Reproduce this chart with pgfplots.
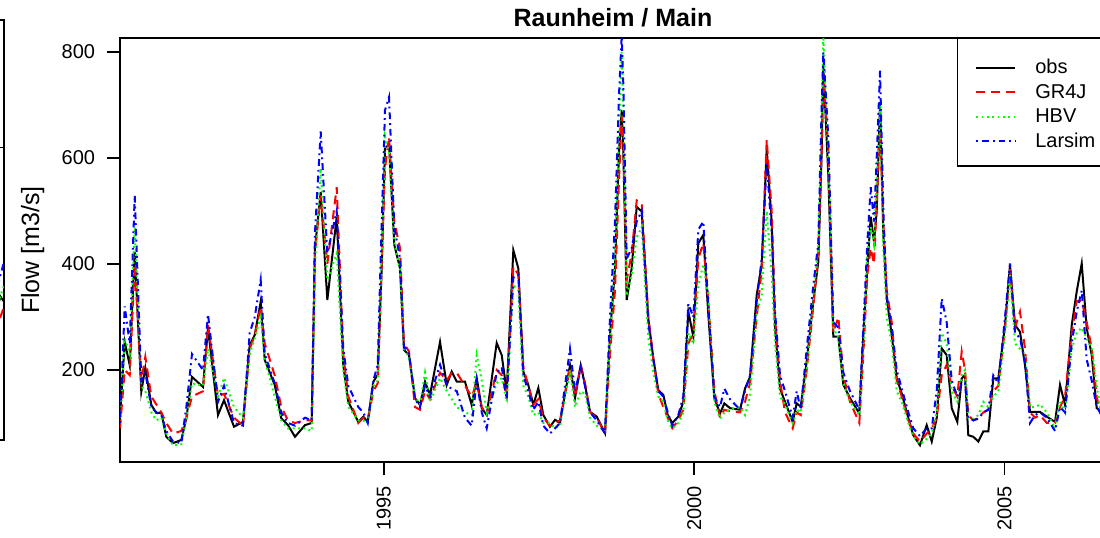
\documentclass[border=0pt]{standalone}
\usepackage{fontspec}
\setmainfont{Liberation Sans}
\usepackage{pgfplots}
\usepackage{pgfplotstable}
\pgfplotsset{compat=1.18}

\definecolor{rred}{RGB}{255,0,0}
\definecolor{rgreen}{RGB}{0,255,0}
\definecolor{rblue}{RGB}{0,0,255}

\pgfplotstableread{
t obs gr hbv lar
1990.749 110 90 100 100
1990.825 253 200 260 320
1990.906 209 190 230 250
1990.986 423 400 470 530
1991.092 159 180 170 180
1991.157 204 225 160 195
1991.254 134 150 120 130
1991.334 119 135 105 120
1991.415 119 120 110 115
1991.495 74 100 80 85
1991.603 62 80 58 65
1991.737 68 85 60 62
1991.818 109 110 110 130
1991.909 187 150 175 230
1992.086 168 160 170 200
1992.167 279 285 240 305
1992.328 115 150 150 140
1992.425 143 155 185 170
1992.586 93 110 130 100
1992.731 102 95 110 95
1992.839 247 240 230 270
1992.920 266 265 260 300
1993.016 329 320 300 370
1993.081 219 250 220 230
1993.242 172 190 150 175
1993.348 109 130 105 120
1993.456 96 105 90 100
1993.569 74 100 90 95
1993.730 96 105 90 110
1993.838 100 105 85 105
1993.891 430 420 400 460
1993.983 536 530 580 650
1994.090 332 400 370 420
1994.241 489 545 420 500
1994.347 209 230 200 240
1994.428 140 150 130 170
1994.589 102 100 105 130
1994.670 112 110 105 120
1994.741 102 105 100 100
1994.831 178 160 170 180
1994.902 191 175 180 210
1994.966 392 400 420 480
1995.019 619 580 640 690
1995.084 625 640 610 715
1995.169 436 480 440 470
1995.261 392 430 390 410
1995.325 238 250 240 245
1995.406 228 235 225 230
1995.503 147 130 150 145
1995.583 134 125 135 130
1995.664 178 160 195 170
1995.744 153 145 140 150
1995.906 253 195 185 210
1996.014 172 180 160 170
1996.094 197 195 145 165
1996.175 178 195 130 160
1996.308 178 170 120 110
1996.416 134 150 115 95
1996.497 185 175 228 180
1996.578 128 130 180 120
1996.658 115 115 120 90
1996.819 251 200 175 195
1996.900 228 190 185 205
1996.980 159 150 140 145
1997.087 426 395 360 375
1997.167 392 380 350 380
1997.248 197 205 170 190
1997.328 172 170 150 160
1997.409 134 135 115 125
1997.490 166 145 120 140
1997.570 115 110 100 95
1997.678 93 95 100 80
1997.759 106 100 90 90
1997.839 100 105 95 100
1998.000 209 205 200 240
1998.081 147 150 130 160
1998.173 209 210 160 205
1998.242 172 175 155 170
1998.323 121 120 110 120
1998.431 112 110 95 105
1998.564 81 80 85 80
1998.645 266 230 260 300
1998.725 392 350 420 480
1998.790 612 560 650 720
1998.833 690 680 800 830
1998.859 612 640 700 740
1998.914 332 370 340 410
1998.994 392 420 380 430
1999.075 508 520 450 480
1999.156 499 515 470 500
1999.262 297 300 260 290
1999.343 222 220 195 220
1999.423 162 155 150 160
1999.504 153 130 140 150
1999.575 115 110 105 120
1999.649 100 90 90 95
1999.745 112 105 100 115
1999.826 140 125 120 150
1999.907 310 250 270 325
1999.987 263 270 250 300
2000.068 439 410 360 465
2000.148 455 440 400 480
2000.229 304 330 340 320
2000.326 147 160 140 150
2000.417 118 110 108 130
2000.487 137 125 120 165
2000.578 128 122 125 145
2000.740 125 120 130 125
2000.820 165 140 115 160
2000.901 187 175 150 190
2001.009 342 300 310 330
2001.089 398 390 340 410
2001.170 618 635 500 590
2001.250 480 500 380 460
2001.304 279 300 250 310
2001.384 165 180 150 190
2001.465 140 120 135 160
2001.589 102 90 100 110
2001.653 137 120 125 160
2001.718 131 115 120 125
2001.814 216 200 200 240
2001.921 329 320 340 360
2002.001 404 420 430 440
2002.056 612 620 680 700
2002.082 775 760 830 800
2002.162 568 620 600 640
2002.243 263 270 280 290
2002.324 263 300 260 280
2002.404 172 190 175 195
2002.512 147 140 140 160
2002.662 118 100 115 125
2002.727 266 230 240 280
2002.791 392 380 420 440
2002.846 489 430 470 545
2002.899 442 400 440 480
2002.942 499 520 560 600
2002.996 706 650 700 765
2003.049 455 480 430 500
2003.104 335 350 300 340
2003.184 266 290 250 280
2003.265 184 180 160 200
2003.345 156 150 140 165
2003.452 109 105 100 120
2003.532 77 80 75 90
2003.640 58 65 60 75
2003.748 96 80 70 90
2003.829 65 90 80 90
2003.909 109 110 120 160
2003.990 241 190 270 335
2004.070 228 210 250 290
2004.151 128 170 160 180
2004.241 102 150 140 150
2004.312 184 235 190 175
2004.365 191 200 200 175
2004.418 77 115 110 110
2004.499 74 105 108 105
2004.580 65 110 115 108
2004.660 84 120 140 120
2004.741 84 125 130 125
2004.821 184 160 150 190
2004.902 184 170 160 175
2005.010 285 280 270 300
2005.090 398 390 380 401
2005.171 285 280 250 270
2005.251 272 310 240 260
2005.332 209 240 230 215
2005.413 121 120 130 100
2005.493 121 110 130 115
2005.574 121 115 135 120
2005.682 112 100 120 110
2005.816 102 100 90 85
2005.896 172 130 140 130
2005.977 134 150 120 120
2006.085 285 270 240 250
2006.165 348 330 270 310
2006.246 401 330 280 350
2006.326 279 290 260 220
2006.407 228 240 240 180
2006.487 128 150 170 130
2006.541 125 120 130 120
2006.620 140 130 150 135
}\flowdata

\pgfplotstableread{
t obs gr hbv lar
1990.40 230 240 250 280
1990.50 260 250 270 300
1990.58 300 260 300 340
1990.64 290 280 320 365
}\prevdata

\pgfplotsset{
  flowaxis/.style={
    scale only axis, width=739.5pt, height=318pt,
    ymin=26.4, ymax=826.4,
    axis line style={line width=1.1pt},
    tick style={black, line width=1.1pt},
    tick align=outside, major tick length=9.75pt,
    xtick pos=bottom, ytick pos=left,
    /pgf/number format/assume math mode=true,
    tick label style={font=\fontsize{15}{18}\selectfont},
    legend cell align=left,
    legend style={at={(1,1)}, anchor=north east, draw=black, line width=1.1pt, fill=white,
      font=\fontsize{15}{18}\selectfont, inner xsep=7.5pt, inner ysep=11pt,
      row sep=0pt, column sep=14.25pt,
      nodes={inner xsep=0pt, inner ysep=2pt, text height=13.25pt, text depth=1.15pt}},
    legend image code/.code={\path[draw=none, fill=none] (0pt,0pt) -- (36pt,0pt);
      \draw[##1, fill=none] (6.75pt,-1.5pt) -- (36pt,-1.5pt);},
  },
  obsl/.style={black, solid, line width=1.5pt},
  grl/.style={rred, line width=1.5pt, dash pattern=on 6.75pt off 4.5pt},
  hbvl/.style={rgreen, line width=1.5pt, dash pattern=on 1.4pt off 2.6pt},
  larl/.style={rblue, line width=1.5pt, dash pattern=on 1.4pt off 3pt on 5pt off 3pt},
}

\begin{document}
\begin{tikzpicture}
\begin{axis}[flowaxis, at={(3pt,72.75pt)}, anchor=south east, height=315pt,
  xmin=1974.75, xmax=1990.64, xtick=\empty, ytick=\empty]
\addplot[obsl] table[x=t, y=obs] {\prevdata};
\addplot[grl] table[x=t, y=gr] {\prevdata};
\addplot[hbvl] table[x=t, y=hbv] {\prevdata};
\addplot[larl] table[x=t, y=lar] {\prevdata};
\draw[line width=1.1pt] (rel axis cs:0.8,0.6965) -- (rel axis cs:1,0.6965);
\end{axis}

\begin{axis}[flowaxis, at={(90pt,56.25pt)}, anchor=south west,
  xmin=1990.749, xmax=2006.637,
  xtick={1995,2000,2005}, xticklabels={1995,2000,2005},
  ytick={200,400,600,800}, yticklabels={200,400,600,800},
  xticklabel style={rotate=90, anchor=east},
  xticklabel shift=4.75pt, yticklabel shift=5.5pt,
  title={Raunheim / Main},
  title style={at={(0.5,1)}, anchor=base, yshift=3pt, font=\fontsize{18.75}{22}\selectfont\bfseries},
  ylabel={Flow [m3/s]},
  ylabel style={at={([xshift=-60.75pt]axis description cs:0,0.5)}, anchor=base, rotate=0,
    font=\fontsize{18.75}{22}\selectfont},
]
\addplot[obsl] table[x=t, y=obs] {\flowdata};
\addplot[grl] table[x=t, y=gr] {\flowdata};
\addplot[hbvl] table[x=t, y=hbv] {\flowdata};
\addplot[larl] table[x=t, y=lar] {\flowdata};
\legend{obs, GR4J, HBV, Larsim}
\end{axis}
\pgfresetboundingbox
\useasboundingbox (0,0) rectangle (825pt,402.75pt);
\end{tikzpicture}
\end{document}
